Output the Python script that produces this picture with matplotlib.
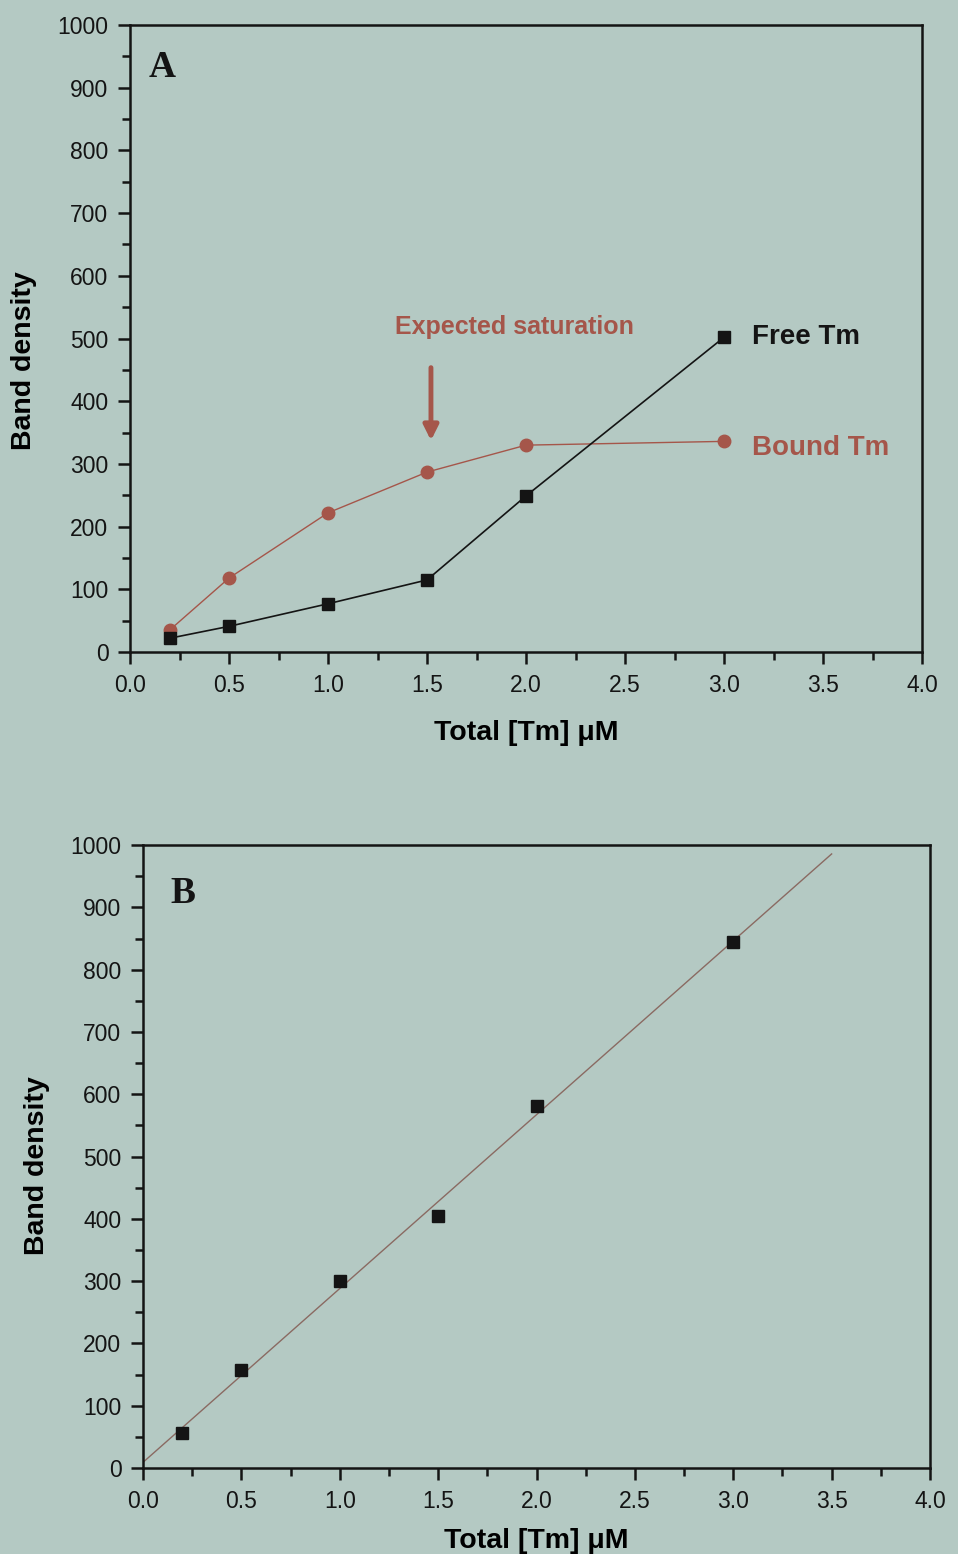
import numpy as np
import matplotlib
matplotlib.use('Agg')
import matplotlib.pyplot as plt
from matplotlib.ticker import MultipleLocator

# データ
conc = [0.2, 0.5, 1.0, 1.5, 2.0, 3.0]
free_tm = [22, 41, 77, 115, 249, 502]
bound_tm = [35, 118, 222, 287, 330, 336]
total_tm = [56, 158, 300, 404, 581, 844]

x_ticks = [0.0, 0.5, 1.0, 1.5, 2.0, 2.5, 3.0, 3.5, 4.0]
y_ticks = list(range(0, 1001, 100))

bg = '#b4c9c3'
red = '#a5564a'
black = '#141414'

plt.rcParams['font.family'] = ['Liberation Sans', 'DejaVu Sans']

fig = plt.figure(figsize=(9.58, 15.54), dpi=100)
fig.patch.set_facecolor(bg)


def style_axes(ax, xlab_pad):
    ax.set_facecolor(bg)
    ax.set_xlim(0, 4.0)
    ax.set_ylim(0, 1000)
    ax.set_xticks(x_ticks)
    ax.set_xticklabels([f'{t:.1f}' for t in x_ticks])
    ax.set_yticks(y_ticks)
    ax.xaxis.set_minor_locator(MultipleLocator(0.25))
    ax.yaxis.set_minor_locator(MultipleLocator(50))
    ax.tick_params(which='major', direction='out', length=8.5, width=1.8,
                   labelsize=16.5, pad=7, colors=black)
    ax.tick_params(which='minor', direction='out', length=5.5, width=1.8, colors=black)
    ax.tick_params(top=False, right=False)
    for s in ax.spines.values():
        s.set_linewidth(1.8)
        s.set_color(black)
    ax.set_ylabel('Band density', fontsize=20.5, fontweight='bold')
    ax.set_xlabel('Total [Tm] \u03bcM', fontsize=20.5, fontweight='bold', labelpad=xlab_pad)


# --- A ---
ax1 = fig.add_axes([130 / 958, 0.5804, 792 / 958, 0.4035])
style_axes(ax1, 17)
ax1.yaxis.set_label_coords(-0.118, 0.465)
ax1.plot(conc, bound_tm, color=red, lw=1.0, marker='o', ms=9,
         markerfacecolor=red, markeredgecolor=red, clip_on=False, zorder=3)
ax1.plot(conc, free_tm, color=black, lw=1.2, marker='s', ms=8,
         markerfacecolor=black, markeredgecolor=black, clip_on=False, zorder=4)
ax1.text(0.023, 0.932, 'A', transform=ax1.transAxes, fontsize=27, fontweight='bold',
         family=['Liberation Serif'], ha='left', va='center', color=black)
ax1.text(1.94, 518, 'Expected saturation', color=red, fontsize=18, fontweight='bold',
         ha='center', va='center')
ax1.annotate('', xy=(1.52, 333), xytext=(1.52, 458),
             arrowprops=dict(arrowstyle='-|>', color=red, lw=3.5, mutation_scale=22))
ax1.text(3.14, 502, 'Free Tm', fontsize=20, fontweight='bold', color=black,
         ha='left', va='center')
ax1.text(3.14, 325, 'Bound Tm', fontsize=20, fontweight='bold', color=red,
         ha='left', va='center')

# --- B ---
ax2 = fig.add_axes([143 / 958, 0.0553, 787 / 958, 0.4009])
style_axes(ax2, 11)
ax2.yaxis.set_label_coords(-0.118, 0.486)
slope, icpt = np.polyfit(conc, total_tm, 1)
xf = np.array([0.0, 3.5])
ax2.plot(xf, slope * xf + icpt, color='#8a6a62', lw=1.0, zorder=2)
ax2.plot(conc, total_tm, linestyle='none', marker='s', ms=8.5,
         color=black, zorder=3)
ax2.text(0.035, 0.923, 'B', transform=ax2.transAxes, fontsize=27, fontweight='bold',
         family=['Liberation Serif'], ha='left', va='center', color=black)

fig.savefig('out.png', dpi=100, facecolor=bg)
